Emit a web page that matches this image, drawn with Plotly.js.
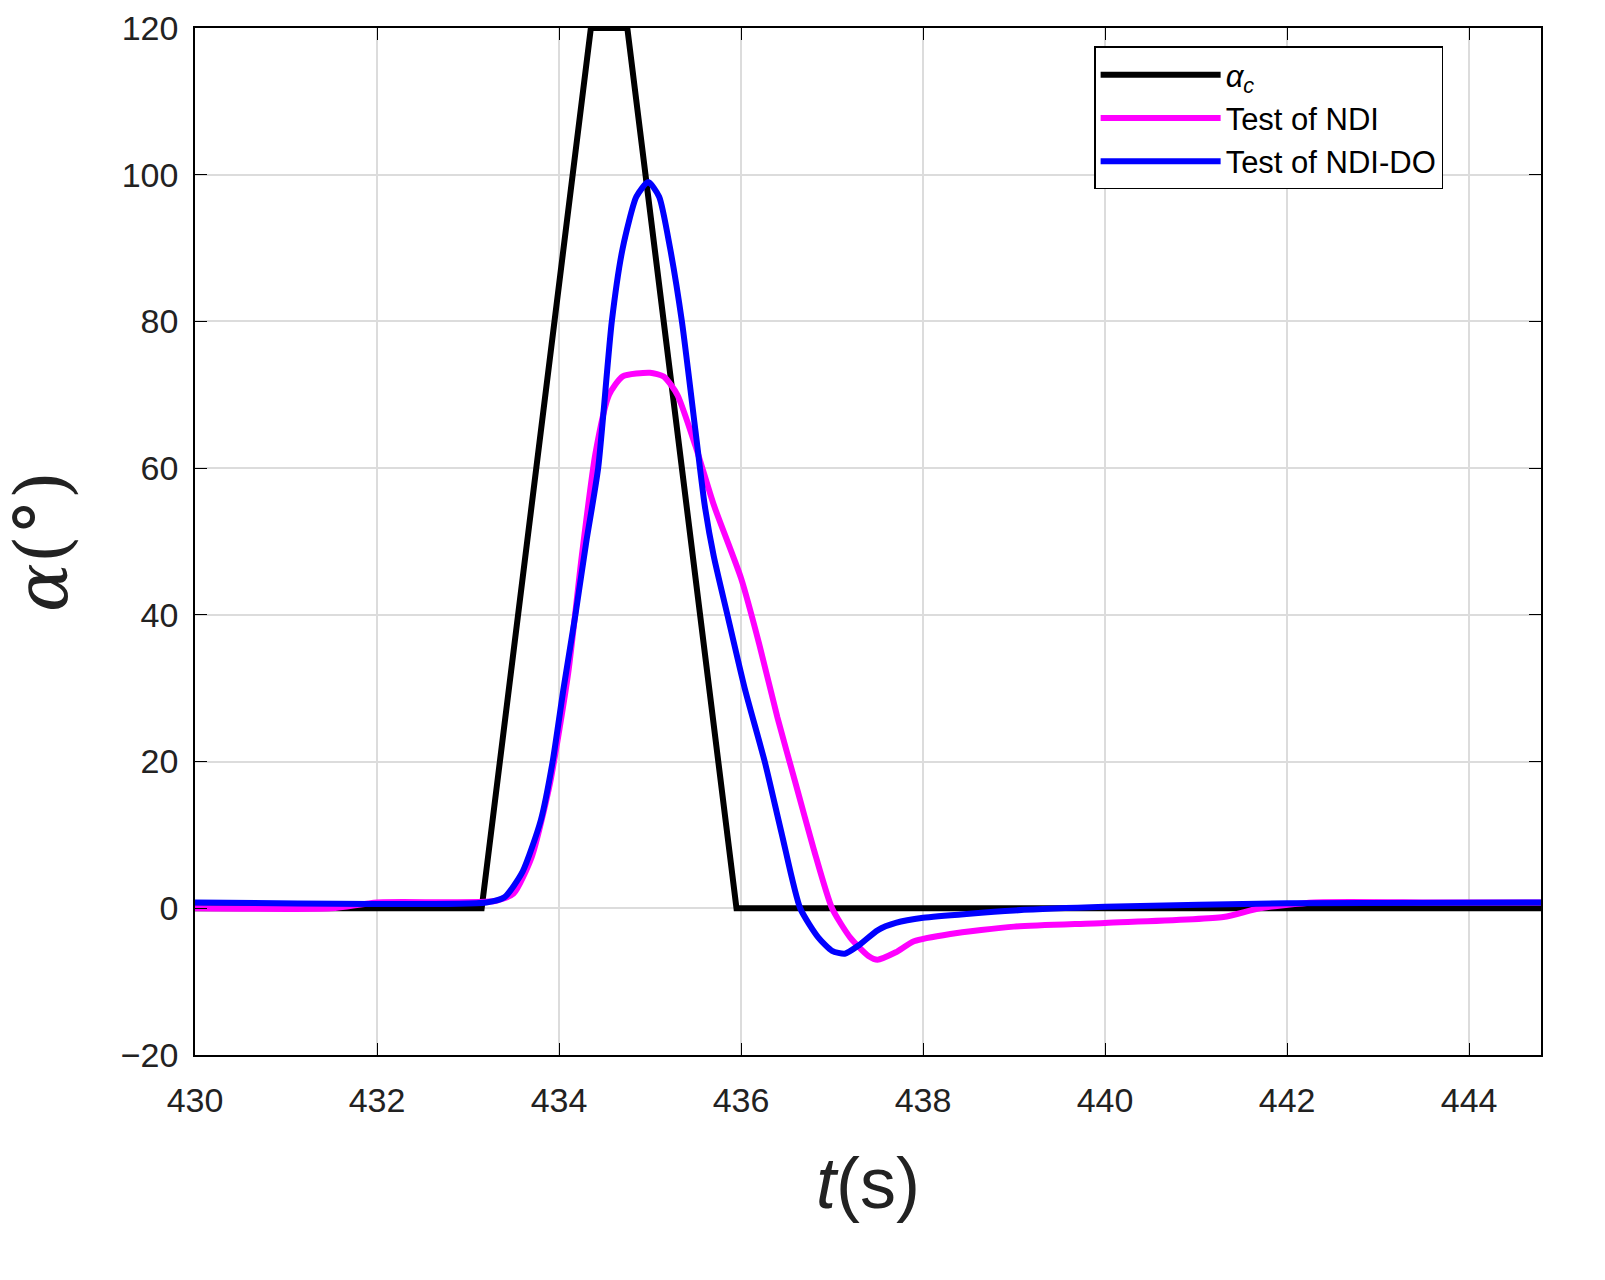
<!DOCTYPE html>
<html>
<head>
<meta charset="utf-8">
<script src="https://cdn.plot.ly/plotly-3.0.1.min.js"></script>
<style>body{margin:0;background:#fff}</style>
</head>
<body>
<div id="chart" style="width:1605px;height:1280px"></div>
<script>
// commanded angle of attack
var cmdT = [430, 433.15, 434.35, 434.75, 435.95, 444.8];
var cmdA = [0, 0, 120, 120, 0, 0];

// NDI test
var ndiT = [430, 431.5, 432, 433.3, 433.5, 433.7, 433.9, 434.1, 434.25, 434.4, 434.55, 434.7, 435.0, 435.15, 435.3, 435.5, 435.7, 436.0, 436.2, 436.4, 436.6, 436.8, 437.0, 437.2, 437.4, 437.5, 437.7, 437.9, 438.3, 439, 440, 441.3, 441.7, 442.3, 443.6, 444.8];
var ndiA = [0, 0, 0.8, 1, 2, 7, 17, 32, 48, 62, 70, 72.5, 73, 72.5, 70, 63, 55, 45, 36, 26, 17, 8, 0, -4, -6.5, -7, -6, -4.5, -3.5, -2.5, -2, -1.2, 0, 0.8, 0.8, 0.8];

// NDI-DO test
var doT = [430, 433.2, 433.4, 433.6, 433.8, 433.93, 434.05, 434.18, 434.3, 434.43, 434.58, 434.7, 434.85, 434.98, 435.1, 435.22, 435.35, 435.5, 435.6, 435.7, 435.85, 436.04, 436.26, 436.45, 436.65, 436.85, 437.0, 437.14, 437.3, 437.5, 437.7, 438, 439, 440, 442, 444.8];
var doA = [0.8, 0.8, 1.5, 5, 12, 20, 30, 40, 50, 60, 80, 90, 97, 99, 97, 90, 80, 65, 55, 48, 40, 30, 20, 10, 0, -4, -5.8, -6.2, -5, -3, -2, -1.3, -0.3, 0.2, 0.7, 0.8];

var data = [
	{x: cmdT, y: cmdA, mode: 'lines', name: '<i>α</i><sub><i>c</i></sub>', line: {color: '#000', width: 6}},
	{x: ndiT, y: ndiA, mode: 'lines', name: 'Test of NDI', line: {color: '#ff00ff', width: 6, shape: 'spline', smoothing: 0.6}},
	{x: doT, y: doA, mode: 'lines', name: 'Test of NDI-DO', line: {color: '#0000ff', width: 6, shape: 'spline', smoothing: 0.6}}
];

var axisCommon = {
	showline: true, mirror: 'ticks', linecolor: '#000', linewidth: 1.5,
	ticks: 'inside', ticklen: 12, tickcolor: '#000',
	showgrid: true, gridcolor: '#dcdcdc', gridwidth: 1.5, zeroline: false,
	tickfont: {family: 'Liberation Sans, Arial', size: 34, color: '#222'}
};

var layout = {
	width: 1605, height: 1280,
	paper_bgcolor: '#fff', plot_bgcolor: '#fff',
	margin: {l: 195, r: 64, t: 28, b: 225},
	showlegend: true,
	legend: {x: 0.668, y: 0.982, xanchor: 'left', yanchor: 'top', bordercolor: '#000', borderwidth: 1.5, bgcolor: '#fff',
		itemwidth: 120, tracegroupgap: 4,
		font: {family: 'Liberation Sans, Arial', size: 31, color: '#000'}},
	xaxis: Object.assign({}, axisCommon, {range: [430, 444.79], tickvals: [430, 432, 434, 436, 438, 440, 442, 444],
		ticklabelstandoff: 14,
		title: {text: '<i>t</i>(s)', font: {family: 'Liberation Sans, Arial', size: 72, color: '#222'}, standoff: 40}}),
	yaxis: Object.assign({}, axisCommon, {range: [-20, 120], tickvals: [-20, 0, 20, 40, 60, 80, 100, 120],
		ticktext: ['−20', '0', '20', '40', '60', '80', '100', '120'], ticklabelstandoff: 8,
		title: {text: '<i>α</i>(°)', font: {family: 'DejaVu Serif', size: 72, color: '#222'}, standoff: 30}})
};

Plotly.newPlot('chart', data, layout, {displayModeBar: false});
</script>
</body>
</html>
